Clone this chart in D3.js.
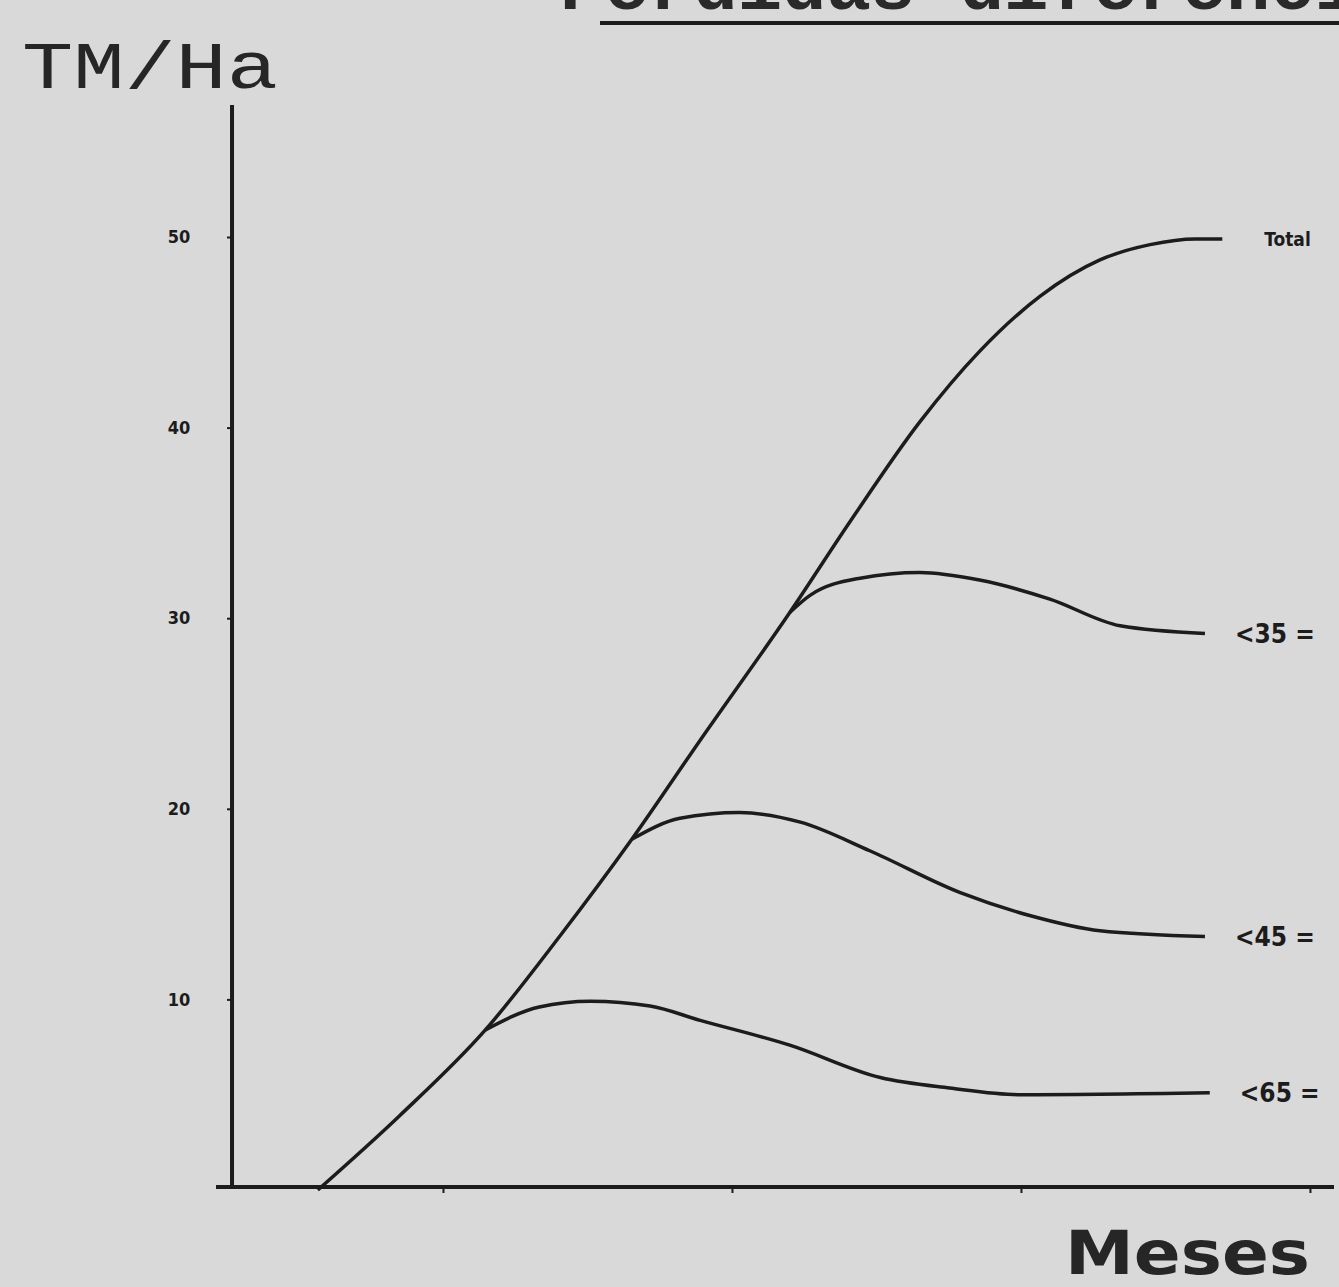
<!DOCTYPE html>
<html>
<head>
<meta charset="utf-8">
<script src="https://cdn.jsdelivr.net/npm/d3@7"></script>
<style>
  body { margin: 0; background: #d9d9d9; }
  svg { display: block; }
</style>
</head>
<body>
<div id="graph"></div>
<script>
// months on x, TM/Ha on y
const yTicks = [10, 20, 30, 40, 50];
const xTicks = [3, 6, 9, 12];

const totalMonths = [1.70, 2.55, 3.44, 4.21, 4.96, 5.67, 6.60, 7.23, 7.95, 8.57, 9.20, 9.82, 10.34, 10.81, 11.09];
const totalValues = [0, 3.9, 8.4, 13.3, 18.4, 23.6, 30.3, 35.1, 40.3, 44.0, 46.9, 48.8, 49.6, 49.9, 49.9];

const lt35Months = [6.60, 6.81, 7.33, 7.95, 8.57, 9.30, 10.03, 10.91];
const lt35Values = [30.3, 31.2, 32.1, 32.4, 32.0, 31.0, 29.6, 29.2];

const lt45Months = [4.96, 5.46, 6.08, 6.71, 7.43, 8.37, 9.09, 9.82, 10.91];
const lt45Values = [18.4, 19.5, 19.8, 19.3, 17.8, 15.6, 14.4, 13.6, 13.3];

const lt65Months = [3.44, 4.0, 4.53, 5.15, 5.67, 6.60, 7.54, 8.26, 8.99, 10.96];
const lt65Values = [8.4, 9.6, 9.9, 9.65, 8.9, 7.6, 5.9, 5.35, 5.0, 5.1];

const seriesNames = ['Total', '<35 =', '<45 =', '<65 ='];

const width = 1339;
const height = 1287;

const x = d3.scaleLinear().domain([0, 12]).range([154, 154 + 12 * 96.33]);
const y = d3.scaleLinear().domain([0, 50]).range([1190, 237]);

const svg = d3.select('#graph')
  .append('svg')
  .attr('width', width)
  .attr('height', height);

svg.append('rect')
  .attr('width', width)
  .attr('height', height)
  .attr('fill', '#d9d9d9');

const ink = '#1c1c1c';

// Title, cut off by the top edge like in the scan
svg.append('text')
  .attr('x', 560)
  .attr('y', 9)
  .attr('font-family', 'Liberation Mono, monospace')
  .attr('font-weight', 'bold')
  .attr('font-size', 74)
  .attr('fill', '#2a2a2a')
  .text('Pérdidas diferenciales');

svg.append('line')
  .attr('x1', 600).attr('x2', width)
  .attr('y1', 23).attr('y2', 23)
  .attr('stroke', ink)
  .attr('stroke-width', 4);

// Axes
const yAxis = svg.append('g')
  .attr('transform', `translate(${x(0.81)},0)`)
  .call(d3.axisLeft(y).tickValues(yTicks).tickSize(5).tickPadding(48));
yAxis.select('.domain').remove();
yAxis.append('line')
  .attr('y1', 105).attr('y2', 1188)
  .attr('stroke', ink)
  .attr('stroke-width', 4);

const xAxis = svg.append('g')
  .attr('transform', `translate(0,${y(0) - 3})`)
  .call(d3.axisBottom(x).tickValues(xTicks).tickSize(6).tickFormat(''));
xAxis.select('.domain').remove();
xAxis.append('line')
  .attr('x1', 216).attr('x2', 1334)
  .attr('stroke', ink)
  .attr('stroke-width', 4);

svg.selectAll('.tick line').attr('stroke', ink).attr('stroke-width', 2);
yAxis.selectAll('.tick text')
  .attr('font-family', 'DejaVu Sans Condensed, DejaVu Sans, sans-serif')
  .attr('font-weight', 'bold')
  .attr('font-size', 18)
  .attr('fill', ink)
  .attr('text-anchor', 'middle');

// Axis titles
svg.append('text')
  .attr('x', 22).attr('y', 88)
  .attr('font-family', 'Liberation Mono, monospace')
  .attr('font-size', 66)
  .attr('textLength', 256)
  .attr('lengthAdjust', 'spacingAndGlyphs')
  .attr('fill', '#262626')
  .text('TM/Ha');

svg.append('text')
  .attr('x', 1065).attr('y', 1274)
  .attr('font-family', 'DejaVu Sans, sans-serif')
  .attr('font-weight', 'bold')
  .attr('font-size', 60)
  .attr('textLength', 245)
  .attr('lengthAdjust', 'spacingAndGlyphs')
  .attr('fill', '#262626')
  .text('Meses');

// Curves
const series = [
  { name: seriesNames[0], months: totalMonths, values: totalValues },
  { name: seriesNames[1], months: lt35Months, values: lt35Values },
  { name: seriesNames[2], months: lt45Months, values: lt45Values },
  { name: seriesNames[3], months: lt65Months, values: lt65Values }
];

const line = d3.line()
  .x(d => x(d[0]))
  .y(d => y(d[1]))
  .curve(d3.curveMonotoneX);

svg.selectAll('path.curve')
  .data(series)
  .join('path')
    .attr('class', 'curve')
    .attr('fill', 'none')
    .attr('stroke', ink)
    .attr('stroke-width', 3.5)
    .attr('stroke-linejoin', 'round')
    .attr('d', d => line(d.months.map((m, i) => [m, d.values[i]])));

// End labels
svg.selectAll('text.label')
  .data(series)
  .join('text')
    .attr('class', 'label')
    .attr('x', (d, i) => i === 0 ? x(d3.max(d.months)) + 42 : x(d3.max(d.months)) + 30)
    .attr('y', d => y(d.values[d.values.length - 1]))
    .attr('dy', '0.35em')
    .attr('font-family', 'DejaVu Sans Condensed, DejaVu Sans, sans-serif')
    .attr('font-weight', 'bold')
    .attr('font-size', (d, i) => i === 0 ? 19 : 26)
    .attr('fill', ink)
    .text(d => d.name);
</script>
</body>
</html>
